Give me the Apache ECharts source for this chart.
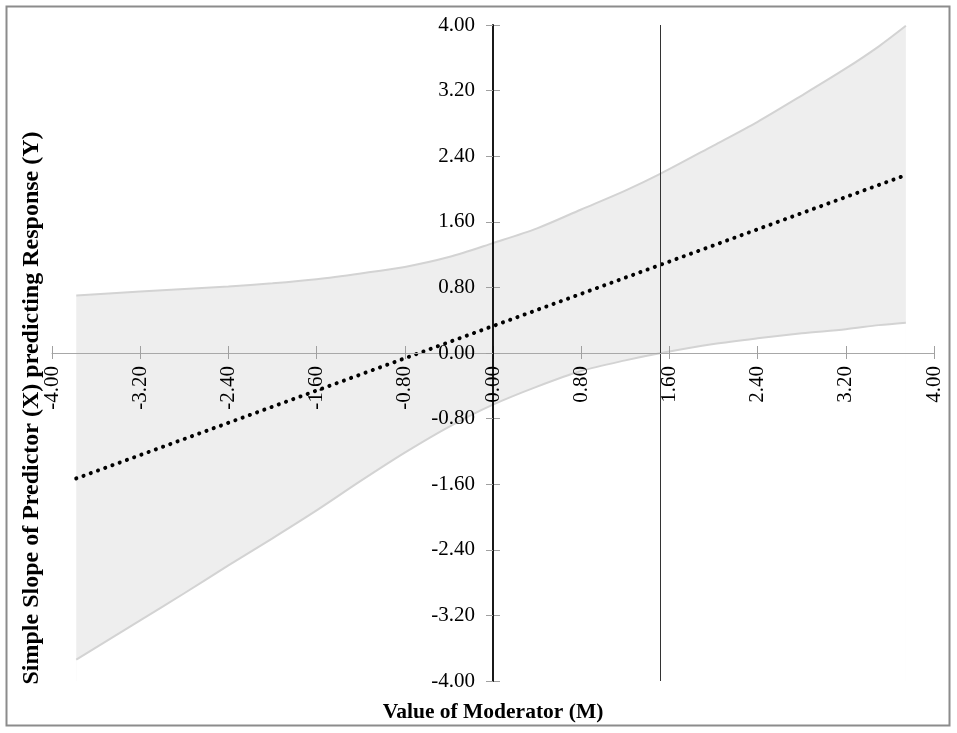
<!DOCTYPE html>
<html>
<head>
<meta charset="utf-8">
<script src="https://cdn.jsdelivr.net/npm/echarts@6/dist/echarts.min.js"></script>
<style>
  html, body { margin: 0; padding: 0; background: #fff; }
  #chart { width: 957px; height: 733px; }
</style>
</head>
<body>
<div id="chart"></div>
<script>
// Moderator values where the confidence band was read
var moderatorVals = [-3.78, -3.2, -2.8, -2.4, -2.0, -1.6, -1.2, -0.8, -0.4, 0, 0.4, 0.8, 1.2, 1.525, 2.0, 2.4, 2.8, 3.2, 3.5, 3.745];
var upperCI = [0.70, 0.75, 0.78, 0.81, 0.85, 0.90, 0.97, 1.05, 1.17, 1.34, 1.52, 1.75, 1.98, 2.19, 2.53, 2.82, 3.14, 3.47, 3.74, 3.99];
var lowerCI = [-3.74, -3.26, -2.93, -2.59, -2.26, -1.92, -1.56, -1.215, -0.90, -0.63, -0.41, -0.22, -0.09, 0.00, 0.11, 0.18, 0.24, 0.29, 0.34, 0.37];
// Simple slope line (straight), endpoints
var slopeX = [-3.78, 3.745];
var slopeY = [-1.53, 2.17];
// Johnson-Neyman point (vertical line)
var jnPoint = 1.525;
// Axis settings
var axisMin = -4, axisMax = 4, axisStep = 0.8;
var xTitle = 'Value of Moderator (M)';
var yTitle = 'Simple Slope of Predictor (X) predicting Response (Y)';

var FONT = '"Liberation Serif", "Times New Roman", serif';
function fmt(v) { if (Math.abs(v) < 1e-9) v = 0; return v.toFixed(2); }

var upperData = moderatorVals.map(function (m, i) { return [m, upperCI[i]]; });
var lowerData = moderatorVals.map(function (m, i) { return [m, lowerCI[i]]; });
var slopeData = slopeX.map(function (m, i) { return [m, slopeY[i]]; });

var W = 957, H = 733;
var G = { left: 52, right: 23, top: 25, bottom: 52 };
// axes cross at the centre of the symmetric [-4, 4] ranges
var xOffset = -((H - G.top - G.bottom) / 2);
var yOffset = -((W - G.left - G.right) / 2);
var tickStyle = { color: '#a0a0a0', width: 1 };

function vAxis(extra) {
  var a = { type: 'value', min: axisMin, max: axisMax, interval: axisStep, splitLine: { show: false } };
  for (var k in extra) a[k] = extra[k];
  return a;
}

var chart = echarts.init(document.getElementById('chart'), null, { renderer: 'canvas' });
chart.setOption({
  animation: false,
  backgroundColor: '#ffffff',
  grid: { left: G.left, right: G.right, top: G.top, bottom: G.bottom, outerBoundsMode: 'none', containLabel: false },
  xAxis: [
    vAxis({
      position: 'bottom', offset: xOffset, z: 5,
      axisLine: { show: true, onZero: false, lineStyle: { color: '#a8a8a8', width: 1 } },
      axisTick: { show: true, inside: true, length: 7, lineStyle: tickStyle },
      axisLabel: { show: true, rotate: 90, margin: 13, formatter: fmt, color: '#000', fontFamily: FONT, fontSize: 21, hideOverlap: false }
    }),
    vAxis({
      position: 'bottom', offset: xOffset, z: 5,
      axisLine: { show: false, onZero: false },
      axisTick: { show: true, inside: false, length: 6, lineStyle: tickStyle },
      axisLabel: { show: false }
    })
  ],
  yAxis: [
    vAxis({
      position: 'left', offset: yOffset, z: 6,
      axisLine: { show: true, onZero: false, lineStyle: { color: '#000', width: 1.8 } },
      axisTick: { show: true, inside: false, length: 7, lineStyle: tickStyle },
      axisLabel: { show: true, margin: 18, formatter: fmt, color: '#000', fontFamily: FONT, fontSize: 21, hideOverlap: false }
    }),
    vAxis({
      position: 'left', offset: yOffset, z: 5,
      axisLine: { show: false, onZero: false },
      axisTick: { show: true, inside: true, length: 7, lineStyle: tickStyle },
      axisLabel: { show: false }
    })
  ],
  series: [
    {
      name: 'upper', type: 'line', data: upperData, xAxisIndex: 0, yAxisIndex: 0,
      smooth: 0.3, symbol: 'none',
      lineStyle: { color: '#d3d3d3', width: 2 },
      areaStyle: { color: '#eeeeee', opacity: 1, origin: 'start' },
      z: 1
    },
    {
      name: 'lower', type: 'line', data: lowerData, xAxisIndex: 0, yAxisIndex: 0,
      smooth: 0.3, symbol: 'none',
      lineStyle: { color: '#d3d3d3', width: 2 },
      areaStyle: { color: '#ffffff', opacity: 1, origin: 'start' },
      z: 2
    },
    {
      name: 'slope', type: 'line', data: slopeData, xAxisIndex: 0, yAxisIndex: 0,
      symbol: 'none',
      lineStyle: { color: '#000', width: 4, type: [0.1, 7.6], cap: 'round' },
      markLine: {
        silent: true, symbol: ['none', 'none'], label: { show: false },
        lineStyle: { color: '#333', width: 1, type: 'solid' },
        data: [{ xAxis: jnPoint }]
      },
      z: 3
    }
  ],
  graphic: [
    {
      type: 'rect', silent: true, z: 100,
      shape: { x: 6.5, y: 6.5, width: 943, height: 719 },
      style: { fill: 'none', stroke: '#8c8c8c', lineWidth: 2 }
    },
    {
      type: 'text', silent: true, z: 100,
      x: 493, y: 712,
      style: { text: xTitle, font: 'bold 21.5px ' + FONT, fill: '#000', align: 'center', verticalAlign: 'middle' }
    },
    {
      type: 'text', silent: true, z: 100,
      x: 32, y: 408, rotation: Math.PI / 2,
      style: { text: yTitle, font: 'bold 24px ' + FONT, fill: '#000', align: 'center', verticalAlign: 'middle' }
    }
  ]
});
</script>
</body>
</html>
